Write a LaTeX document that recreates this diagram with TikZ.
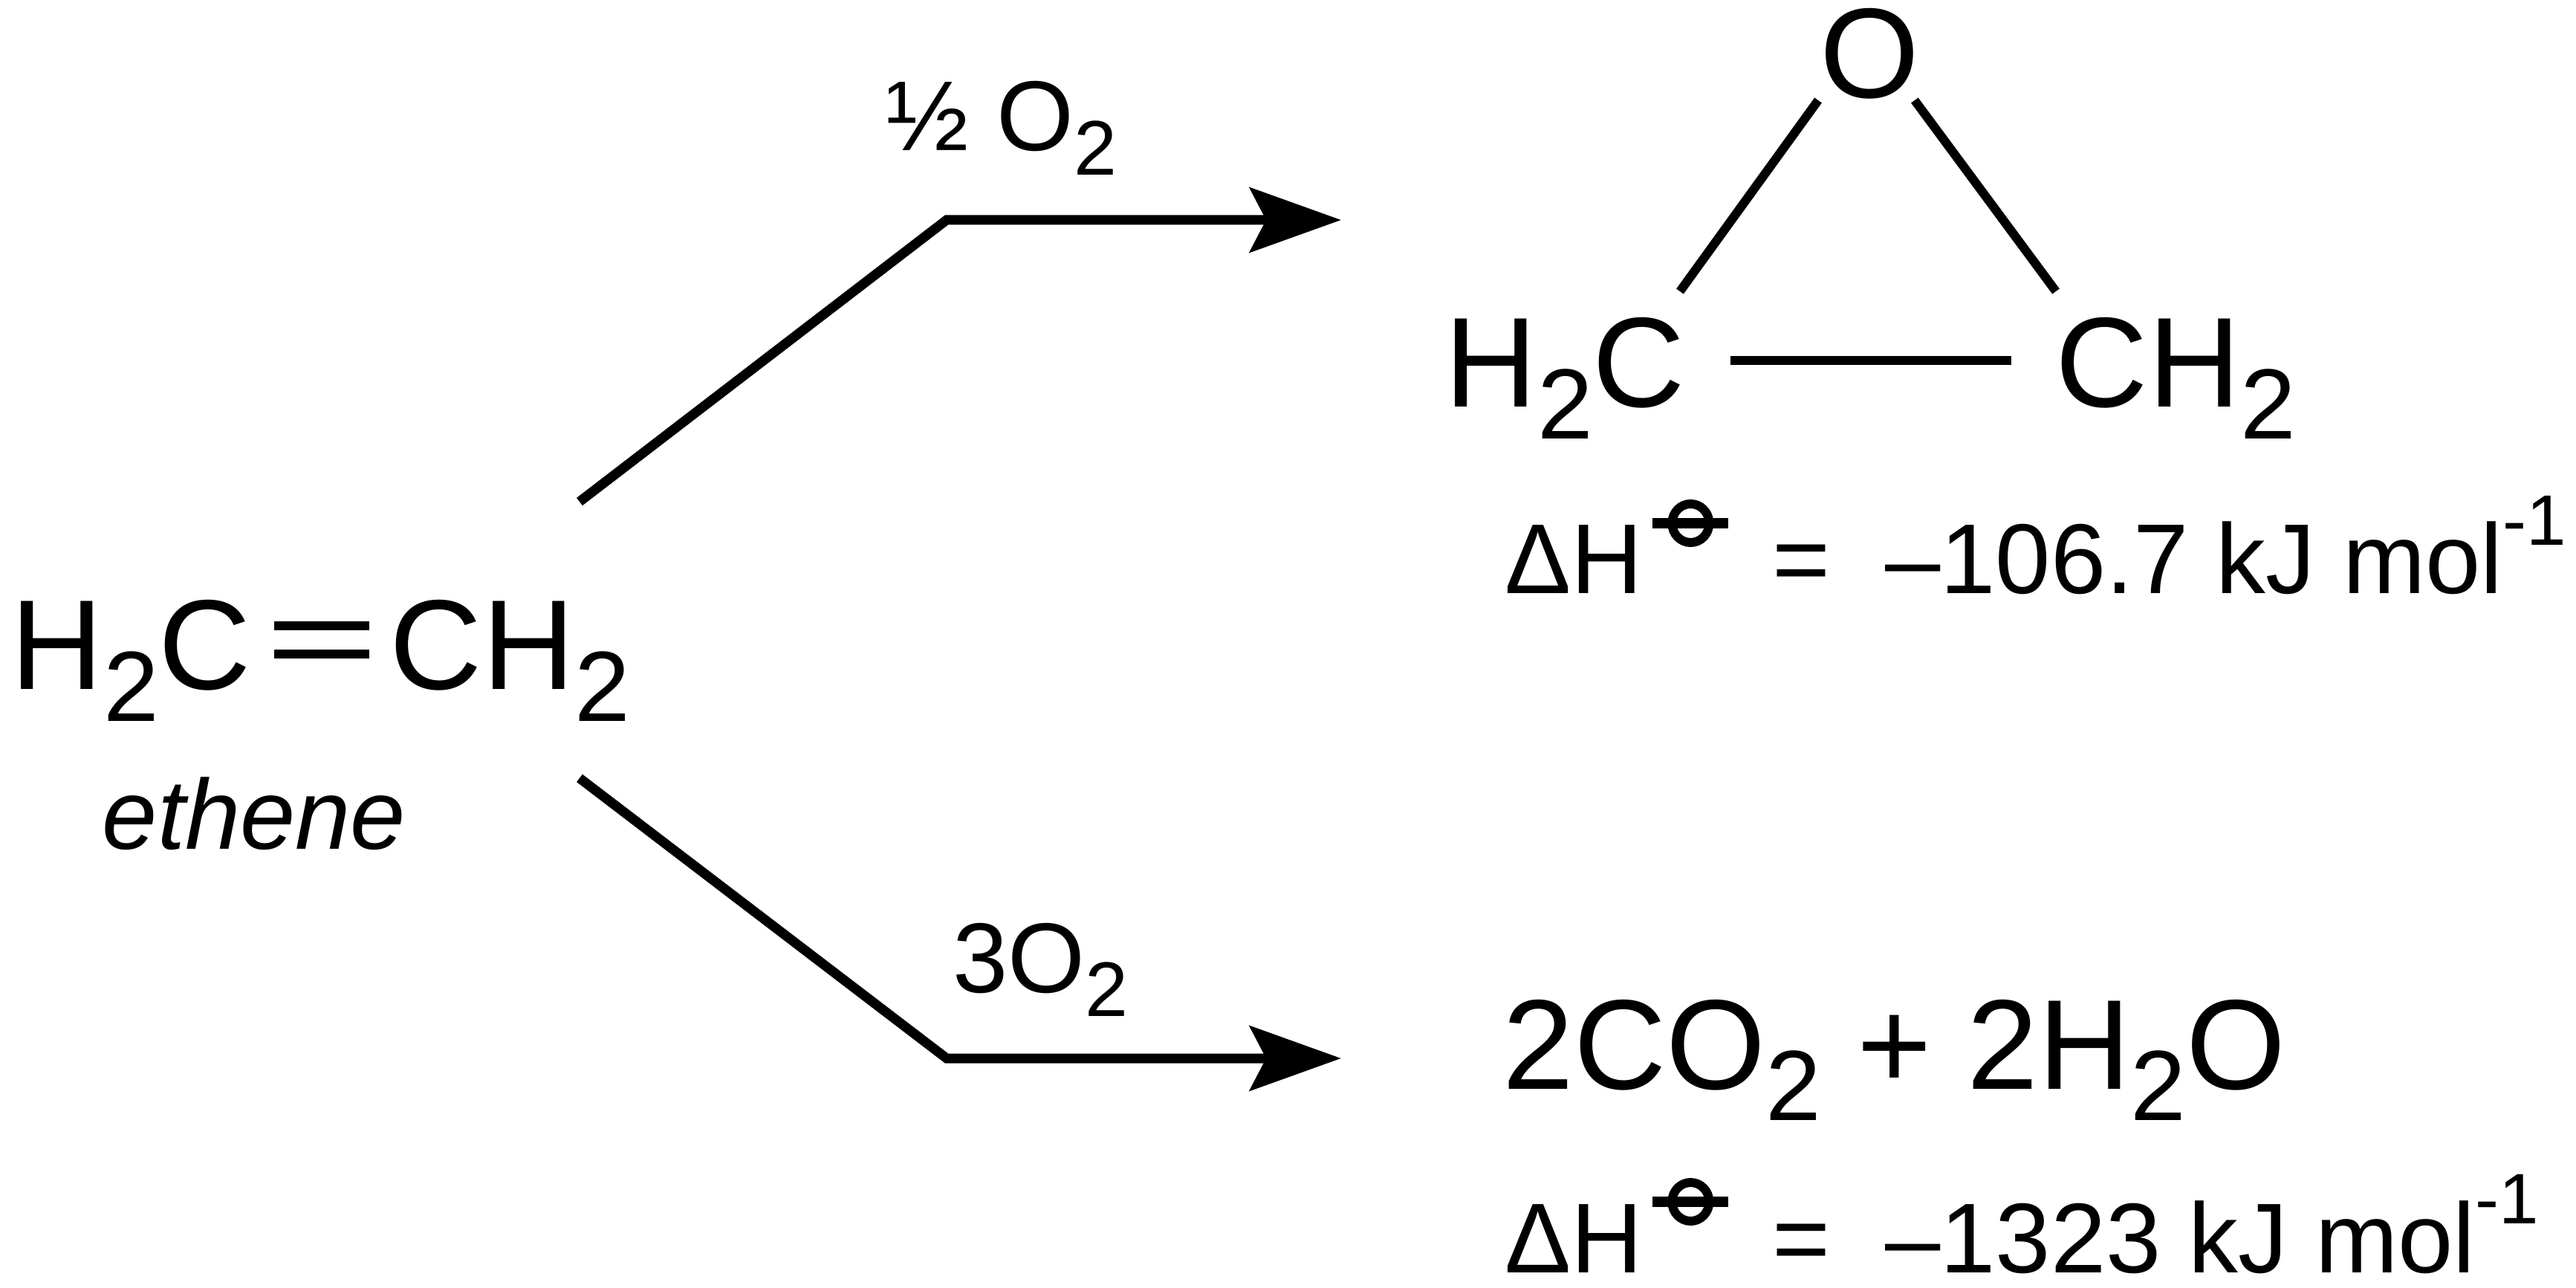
\documentclass[tikz,border=0pt]{standalone}
\usepackage{fontspec}
\setmainfont{Liberation Sans}
\usetikzlibrary{arrows.meta}

\newcommand\chsub[1]{\raisebox{-0.245em}{\scalebox{0.78}{#1}}}
\newcommand\chsup[1]{\raisebox{0.49em}{\scalebox{0.72}{#1}}}
\newcommand\plim{\tikz[baseline=-0.95cm]{\draw[line width=0.12cm] (0,0) ellipse[x radius=0.25cm, y radius=0.26cm]; \draw[line width=0.14cm] (-0.51,0) -- (0.51,0);}}
\newcommand\dH[1]{ΔH\hspace{0.06cm}\plim\hspace{0.52cm}=\hspace{0.74cm}–#1 kJ mol\chsup{-1}}

\tikzset{
  big/.style={font=\fontsize{49}{59}\selectfont, inner sep=0pt, anchor=base west},
  small/.style={font=\fontsize{38}{46}\selectfont, inner sep=0pt, anchor=base west},
  bond/.style={line width=0.12cm},
  pfeil/.style={line width=0.13cm, -{Stealth[length=1.23cm, width=0.87cm, inset=0.22cm]}}
}

\begin{document}
\begin{tikzpicture}
    \useasboundingbox (0,0) rectangle (34.67,-17.33);

    % 乙烯
    \node[big] (eth1) at (0.14,-9.28) {H\chsub{2}C};
    \node[big] (eth2) at (5.24,-9.28) {CH\chsub{2}};
    \node[small, anchor=base] (ethname) at (3.42,-11.42) {\itshape ethene};
    \draw[bond] ([shift={(0.30,0.86)}]eth1.base east) -- ([shift={(-0.27,0.86)}]eth2.base west);
    \draw[bond] ([shift={(0.30,0.48)}]eth1.base east) -- ([shift={(-0.27,0.48)}]eth2.base west);

    % 箭头
    \coordinate (a0) at (7.80,-6.75);
    \coordinate (a1) at (12.74,-2.96);
    \coordinate (a2) at (18.05,-2.96);
    \coordinate (b0) at (7.80,-10.47);
    \coordinate (b1) at (12.74,-14.24);
    \coordinate (b2) at (18.05,-14.24);
    \draw[pfeil] (a0) -- (a1) -- (a2);
    \draw[pfeil] (b0) -- (b1) -- (b2);
    \node[small] (r1) at (11.92,-2.03) {½ O\chsub{2}};
    \node[small] (r2) at (12.82,-13.35) {3O\chsub{2}};

    % 环氧乙烷
    \node[big] (ox) at (24.49,-1.32) {O};
    \node[big] (oxl) at (19.44,-5.48) {H\chsub{2}C};
    \node[big] (oxr) at (27.66,-5.48) {CH\chsub{2}};
    \draw[bond] ([shift={(-0.02,-0.03)}]ox.base west) -- ([shift={(3.17,1.56)}]oxl.base west);
    \draw[bond] ([shift={(-0.075,-0.03)}]ox.base east) -- ([shift={(0.01,1.56)}]oxr.base west);
    \draw[bond] ([shift={(0.60,0.63)}]oxl.base east) -- ([shift={(-0.59,0.63)}]oxr.base west);
    \node[small] (dh1) at (20.25,-7.99) {\dH{106.7}};

    % 完全燃烧
    \node[big] (co2) at (20.22,-14.65) {2CO\chsub{2} + 2H\chsub{2}O};
    \node[small] (dh2) at (20.25,-17.12) {\dH{1323}};

\end{tikzpicture}
\end{document}
